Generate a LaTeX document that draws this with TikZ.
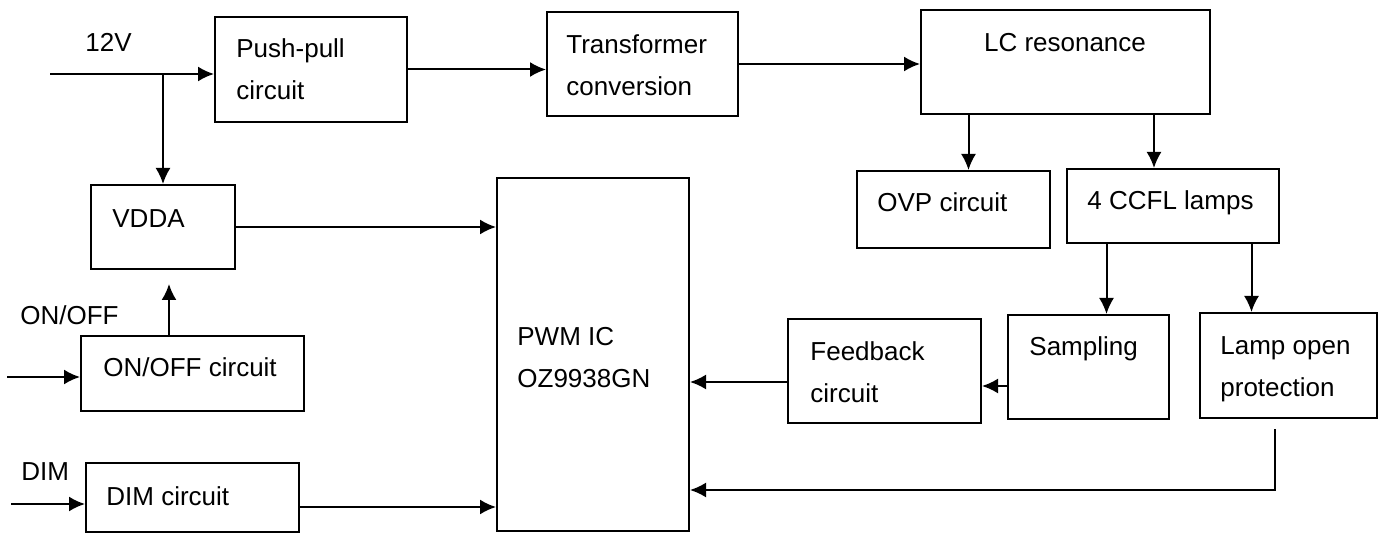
\documentclass[tikz,border=0pt]{standalone}
\usepackage{fontspec}
\setmainfont{Liberation Sans}
\usetikzlibrary{arrows.meta, fit}
\tikzset{
    blocco/.style = {draw, line width = 1pt, inner sep = 0pt},
    testo/.style = {inner sep = 0pt, anchor = base west, align = left, font = \fontsize{13}{21}\selectfont},
    freccia/.style = {line width = 1pt, -{Latex[length = 8pt, width = 7.5pt]}}
}

\begin{document}
\begin{tikzpicture}[x = 0.5pt, y = -0.5pt]
    % Cornice
    \useasboundingbox (0,0) rectangle (1387,534);
    % Blocchi
    \node[blocco, fit = {(215,17) (407,122)}] (push) {};
    \node[blocco, fit = {(547,12) (738,116)}] (trasf) {};
    \node[blocco, fit = {(921,10) (1210,114)}] (lc) {};
    \node[blocco, fit = {(91,185) (235,269)}] (vdda) {};
    \node[blocco, fit = {(497,178) (689,531)}] (pwm) {};
    \node[blocco, fit = {(857,171) (1050,248)}] (ovp) {};
    \node[blocco, fit = {(1067,169) (1279,243)}] (ccfl) {};
    \node[blocco, fit = {(81,336) (304,411)}] (onoff) {};
    \node[blocco, fit = {(788,319) (981,423)}] (feedback) {};
    \node[blocco, fit = {(1008,315) (1169,419)}] (sampling) {};
    \node[blocco, fit = {(1200,313) (1377,418)}] (lampopen) {};
    \node[blocco, fit = {(86,463) (299,532)}] (dim) {};
    % Testi (base = ultima riga)
    \node[testo] (t12v) at (85,52) {12V};
    \node[testo] (tpush) at (236,100) {Push-pull\\circuit};
    \node[testo] (ttrasf) at (566,96) {Transformer\\conversion};
    \node[testo, anchor = base] (tlc) at (1065,52) {LC resonance};
    \node[testo] (tvdda) at (112,228) {VDDA};
    \node[testo] (tpwm) at (517,387) {PWM IC\\OZ9938GN};
    \node[testo] (tovp) at (877,212) {OVP circuit};
    \node[testo] (tccfl) at (1087,210) {4 CCFL lamps};
    \node[testo] (tonoff) at (20,325) {ON/OFF};
    \node[testo] (tonoffc) at (103,377) {ON/OFF circuit};
    \node[testo] (tdim) at (21,480) {DIM};
    \node[testo] (tdimc) at (106,505) {DIM circuit};
    \node[testo] (tfeed) at (810,402) {Feedback\\circuit};
    \node[testo] (tsamp) at (1029,356) {Sampling};
    \node[testo] (tlamp) at (1220,396) {Lamp open\\protection};
    % Ingressi
    \coordinate (in12) at (50,74);
    \coordinate (inOnOff) at (7,377);
    \coordinate (inDim) at (11,504);
    \coordinate (dimOut) at ([yshift = -4.75pt]dim.east);
    \coordinate (lampOut) at ([xshift = -6.75pt, yshift = -5pt]lampopen.south);
    % Frecce
    \draw[freccia] (in12) -- (in12 -| push.west);
    \draw[freccia] (in12 -| vdda.north) -- (vdda.north);
    \draw[freccia] (push.east) -- (push.east -| trasf.west);
    \draw[freccia] (trasf.east) -- (trasf.east -| lc.west);
    \draw[freccia] ([xshift = 7.5pt]ovp.north |- lc.south) -- ([xshift = 7.5pt]ovp.north);
    \draw[freccia] ([xshift = -9.5pt]ccfl.north |- lc.south) -- ([xshift = -9.5pt]ccfl.north);
    \draw[freccia] ([xshift = 9pt]sampling.north |- ccfl.south) -- ([xshift = 9pt]sampling.north);
    \draw[freccia] ([xshift = -18.5pt]lampopen.north |- ccfl.south) -- ([xshift = -18.5pt]lampopen.north);
    \draw[freccia] ([yshift = -9.5pt]sampling.west) -- ([yshift = -9.5pt]sampling.west -| feedback.east);
    \draw[freccia] ([yshift = -5.5pt]feedback.west) -- ([yshift = -5.5pt]feedback.west -| pwm.east);
    \draw[freccia] (vdda.east) -- (vdda.east -| pwm.west);
    \draw[freccia] ([xshift = 3pt]vdda.south |- onoff.north) -- ([xshift = 3pt, yshift = -7pt]vdda.south);
    \draw[freccia] (inOnOff) -- (inOnOff -| onoff.west);
    \draw[freccia] (inDim) -- (inDim -| dim.west);
    \draw[freccia] (dimOut) -- (dimOut -| pwm.west);
    \draw[freccia] (lampOut) |- ([yshift = -67.75pt]pwm.east);
\end{tikzpicture}
\end{document}
